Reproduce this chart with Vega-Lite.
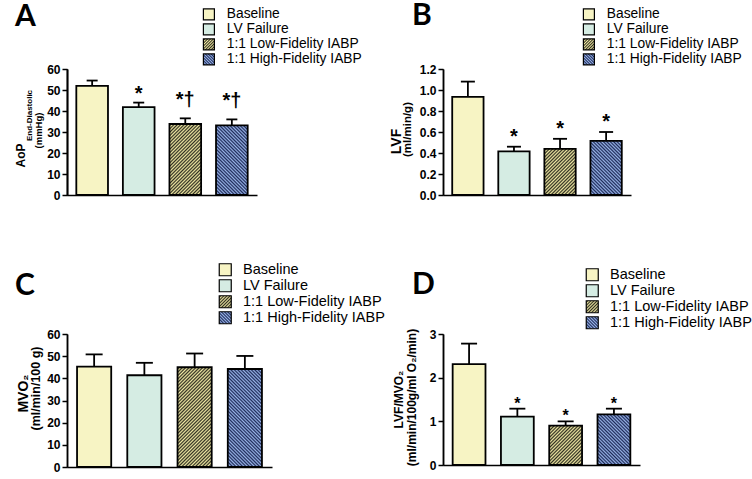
{
"$schema": "https://vega.github.io/schema/vega-lite/v6.json",
"autosize": {"type": "none"},
"padding": {"left": 67, "top": 69, "right": 685, "bottom": 410},
"params": [
{"name": "stY", "value": [{"offset":0,"color":"#f0e9a4"},{"offset":0.0125,"color":"#2f2e20"},{"offset":0.025,"color":"#f0e9a4"},{"offset":0.0375,"color":"#2f2e20"},{"offset":0.05,"color":"#f0e9a4"},{"offset":0.0625,"color":"#2f2e20"},{"offset":0.075,"color":"#f0e9a4"},{"offset":0.0875,"color":"#2f2e20"},{"offset":0.1,"color":"#f0e9a4"},{"offset":0.1125,"color":"#2f2e20"},{"offset":0.125,"color":"#f0e9a4"},{"offset":0.1375,"color":"#2f2e20"},{"offset":0.15,"color":"#f0e9a4"},{"offset":0.1625,"color":"#2f2e20"},{"offset":0.175,"color":"#f0e9a4"},{"offset":0.1875,"color":"#2f2e20"},{"offset":0.2,"color":"#f0e9a4"},{"offset":0.2125,"color":"#2f2e20"},{"offset":0.225,"color":"#f0e9a4"},{"offset":0.2375,"color":"#2f2e20"},{"offset":0.25,"color":"#f0e9a4"},{"offset":0.2625,"color":"#2f2e20"},{"offset":0.275,"color":"#f0e9a4"},{"offset":0.2875,"color":"#2f2e20"},{"offset":0.3,"color":"#f0e9a4"},{"offset":0.3125,"color":"#2f2e20"},{"offset":0.325,"color":"#f0e9a4"},{"offset":0.3375,"color":"#2f2e20"},{"offset":0.35,"color":"#f0e9a4"},{"offset":0.3625,"color":"#2f2e20"},{"offset":0.375,"color":"#f0e9a4"},{"offset":0.3875,"color":"#2f2e20"},{"offset":0.4,"color":"#f0e9a4"},{"offset":0.4125,"color":"#2f2e20"},{"offset":0.425,"color":"#f0e9a4"},{"offset":0.4375,"color":"#2f2e20"},{"offset":0.45,"color":"#f0e9a4"},{"offset":0.4625,"color":"#2f2e20"},{"offset":0.475,"color":"#f0e9a4"},{"offset":0.4875,"color":"#2f2e20"},{"offset":0.5,"color":"#f0e9a4"},{"offset":0.5125,"color":"#2f2e20"},{"offset":0.525,"color":"#f0e9a4"},{"offset":0.5375,"color":"#2f2e20"},{"offset":0.55,"color":"#f0e9a4"},{"offset":0.5625,"color":"#2f2e20"},{"offset":0.575,"color":"#f0e9a4"},{"offset":0.5875,"color":"#2f2e20"},{"offset":0.6,"color":"#f0e9a4"},{"offset":0.6125,"color":"#2f2e20"},{"offset":0.625,"color":"#f0e9a4"},{"offset":0.6375,"color":"#2f2e20"},{"offset":0.65,"color":"#f0e9a4"},{"offset":0.6625,"color":"#2f2e20"},{"offset":0.675,"color":"#f0e9a4"},{"offset":0.6875,"color":"#2f2e20"},{"offset":0.7,"color":"#f0e9a4"},{"offset":0.7125,"color":"#2f2e20"},{"offset":0.725,"color":"#f0e9a4"},{"offset":0.7375,"color":"#2f2e20"},{"offset":0.75,"color":"#f0e9a4"},{"offset":0.7625,"color":"#2f2e20"},{"offset":0.775,"color":"#f0e9a4"},{"offset":0.7875,"color":"#2f2e20"},{"offset":0.8,"color":"#f0e9a4"},{"offset":0.8125,"color":"#2f2e20"},{"offset":0.825,"color":"#f0e9a4"},{"offset":0.8375,"color":"#2f2e20"},{"offset":0.85,"color":"#f0e9a4"},{"offset":0.8625,"color":"#2f2e20"},{"offset":0.875,"color":"#f0e9a4"},{"offset":0.8875,"color":"#2f2e20"},{"offset":0.9,"color":"#f0e9a4"},{"offset":0.9125,"color":"#2f2e20"},{"offset":0.925,"color":"#f0e9a4"},{"offset":0.9375,"color":"#2f2e20"},{"offset":0.95,"color":"#f0e9a4"},{"offset":0.9625,"color":"#2f2e20"},{"offset":0.975,"color":"#f0e9a4"},{"offset":0.9875,"color":"#2f2e20"},{"offset":1,"color":"#f0e9a4"}]},
{"name": "stB", "value": [{"offset":0,"color":"#97b2e6"},{"offset":0.0125,"color":"#1d2a58"},{"offset":0.025,"color":"#97b2e6"},{"offset":0.0375,"color":"#1d2a58"},{"offset":0.05,"color":"#97b2e6"},{"offset":0.0625,"color":"#1d2a58"},{"offset":0.075,"color":"#97b2e6"},{"offset":0.0875,"color":"#1d2a58"},{"offset":0.1,"color":"#97b2e6"},{"offset":0.1125,"color":"#1d2a58"},{"offset":0.125,"color":"#97b2e6"},{"offset":0.1375,"color":"#1d2a58"},{"offset":0.15,"color":"#97b2e6"},{"offset":0.1625,"color":"#1d2a58"},{"offset":0.175,"color":"#97b2e6"},{"offset":0.1875,"color":"#1d2a58"},{"offset":0.2,"color":"#97b2e6"},{"offset":0.2125,"color":"#1d2a58"},{"offset":0.225,"color":"#97b2e6"},{"offset":0.2375,"color":"#1d2a58"},{"offset":0.25,"color":"#97b2e6"},{"offset":0.2625,"color":"#1d2a58"},{"offset":0.275,"color":"#97b2e6"},{"offset":0.2875,"color":"#1d2a58"},{"offset":0.3,"color":"#97b2e6"},{"offset":0.3125,"color":"#1d2a58"},{"offset":0.325,"color":"#97b2e6"},{"offset":0.3375,"color":"#1d2a58"},{"offset":0.35,"color":"#97b2e6"},{"offset":0.3625,"color":"#1d2a58"},{"offset":0.375,"color":"#97b2e6"},{"offset":0.3875,"color":"#1d2a58"},{"offset":0.4,"color":"#97b2e6"},{"offset":0.4125,"color":"#1d2a58"},{"offset":0.425,"color":"#97b2e6"},{"offset":0.4375,"color":"#1d2a58"},{"offset":0.45,"color":"#97b2e6"},{"offset":0.4625,"color":"#1d2a58"},{"offset":0.475,"color":"#97b2e6"},{"offset":0.4875,"color":"#1d2a58"},{"offset":0.5,"color":"#97b2e6"},{"offset":0.5125,"color":"#1d2a58"},{"offset":0.525,"color":"#97b2e6"},{"offset":0.5375,"color":"#1d2a58"},{"offset":0.55,"color":"#97b2e6"},{"offset":0.5625,"color":"#1d2a58"},{"offset":0.575,"color":"#97b2e6"},{"offset":0.5875,"color":"#1d2a58"},{"offset":0.6,"color":"#97b2e6"},{"offset":0.6125,"color":"#1d2a58"},{"offset":0.625,"color":"#97b2e6"},{"offset":0.6375,"color":"#1d2a58"},{"offset":0.65,"color":"#97b2e6"},{"offset":0.6625,"color":"#1d2a58"},{"offset":0.675,"color":"#97b2e6"},{"offset":0.6875,"color":"#1d2a58"},{"offset":0.7,"color":"#97b2e6"},{"offset":0.7125,"color":"#1d2a58"},{"offset":0.725,"color":"#97b2e6"},{"offset":0.7375,"color":"#1d2a58"},{"offset":0.75,"color":"#97b2e6"},{"offset":0.7625,"color":"#1d2a58"},{"offset":0.775,"color":"#97b2e6"},{"offset":0.7875,"color":"#1d2a58"},{"offset":0.8,"color":"#97b2e6"},{"offset":0.8125,"color":"#1d2a58"},{"offset":0.825,"color":"#97b2e6"},{"offset":0.8375,"color":"#1d2a58"},{"offset":0.85,"color":"#97b2e6"},{"offset":0.8625,"color":"#1d2a58"},{"offset":0.875,"color":"#97b2e6"},{"offset":0.8875,"color":"#1d2a58"},{"offset":0.9,"color":"#97b2e6"},{"offset":0.9125,"color":"#1d2a58"},{"offset":0.925,"color":"#97b2e6"},{"offset":0.9375,"color":"#1d2a58"},{"offset":0.95,"color":"#97b2e6"},{"offset":0.9625,"color":"#1d2a58"},{"offset":0.975,"color":"#97b2e6"},{"offset":0.9875,"color":"#1d2a58"},{"offset":1,"color":"#97b2e6"}]},
{"name": "gAL", "expr": "{gradient: 'linear', x1: 0, y1: 0, x2: 0.713, y2: 1.598, stops: stY}"},
{"name": "gAH", "expr": "{gradient: 'linear', x1: 0, y1: 1, x2: 0.735, y2: -0.617, stops: stB}"},
{"name": "gBL", "expr": "{gradient: 'linear', x1: 0, y1: 0, x2: 1.367, y2: 2.016, stops: stY}"},
{"name": "gBH", "expr": "{gradient: 'linear', x1: 0, y1: 1, x2: 1.090, y2: -0.883, stops: stB}"},
{"name": "gCL", "expr": "{gradient: 'linear', x1: 0, y1: 0, x2: 0.418, y2: 1.220, stops: stY}"},
{"name": "gCH", "expr": "{gradient: 'linear', x1: 0, y1: 1, x2: 0.432, y2: -0.238, stops: stB}"},
{"name": "gDL", "expr": "{gradient: 'linear', x1: 0, y1: 0, x2: 1.703, y2: 2.038, stops: stY}"},
{"name": "gDH", "expr": "{gradient: 'linear', x1: 0, y1: 1, x2: 1.226, y2: -0.891, stops: stB}"},
{"name": "legL", "expr": "{gradient: 'linear', x1: 0, y1: 0, x2: 5.2, y2: 5.2, stops: stY}"},
{"name": "legH", "expr": "{gradient: 'linear', x1: 0, y1: 1, x2: 5.2, y2: -4.2, stops: stB}"}
],
"data": {"values": [
{"panel":"A","group":"Baseline","value":52.0,"upper":54.5,"sig":""},
{"panel":"A","group":"LV Failure","value":41.8,"upper":44.0,"sig":"*"},
{"panel":"A","group":"1:1 Low-Fidelity IABP","value":33.8,"upper":36.5,"sig":"*†"},
{"panel":"A","group":"1:1 High-Fidelity IABP","value":33.2,"upper":36.0,"sig":"*†"},
{"panel":"B","group":"Baseline","value":0.935,"upper":1.08,"sig":""},
{"panel":"B","group":"LV Failure","value":0.415,"upper":0.46,"sig":"*"},
{"panel":"B","group":"1:1 Low-Fidelity IABP","value":0.44,"upper":0.535,"sig":"*"},
{"panel":"B","group":"1:1 High-Fidelity IABP","value":0.515,"upper":0.60,"sig":"*"},
{"panel":"C","group":"Baseline","value":45.3,"upper":50.8,"sig":""},
{"panel":"C","group":"LV Failure","value":41.4,"upper":47.0,"sig":""},
{"panel":"C","group":"1:1 Low-Fidelity IABP","value":45.0,"upper":51.2,"sig":""},
{"panel":"C","group":"1:1 High-Fidelity IABP","value":44.2,"upper":50.1,"sig":""},
{"panel":"D","group":"Baseline","value":2.31,"upper":2.78,"sig":""},
{"panel":"D","group":"LV Failure","value":1.11,"upper":1.29,"sig":"*"},
{"panel":"D","group":"1:1 Low-Fidelity IABP","value":0.90,"upper":1.00,"sig":"*"},
{"panel":"D","group":"1:1 High-Fidelity IABP","value":1.16,"upper":1.29,"sig":"*"}
]},
"columns": 2,
"align": "all",
"bounds": "flush",
"spacing": {"row": 132, "column": 171},
"resolve": {"scale": {"fill": "independent", "y": "independent", "x": "independent"}, "legend": {"fill": "independent"}, "axis": {"y": "independent", "x": "independent"}},
"concat": [
{
 "width": 190, "height": 126,
 "title": {"text": "A", "anchor": "start", "frame": "group", "font": "Lato", "fontSize": 30, "fontWeight": "bold", "color": "black", "baseline": "alphabetic", "offset": -48, "dx": -52},
 "transform": [{"filter": "datum.panel === 'A'"}],
 "encoding": {"x": {"field": "group", "type": "nominal", "sort": ["Baseline","LV Failure","1:1 Low-Fidelity IABP","1:1 High-Fidelity IABP"], "scale": {"paddingInner": 0.32, "paddingOuter": 0.2}, "axis": {"title": null, "labels": false, "ticks": false}}},
 "layer": [
  {"mark": {"type": "bar", "stroke": "black", "strokeWidth": 1.8},
   "encoding": {
    "y": {"field": "value", "type": "quantitative", "scale": {"domain": [0, 60]}, "axis": {"orient": "left", "values": [0,10,20,30,40,50,60], "title": "(mmHg)", "titleFontSize": 9.5, "titleX": -24, "titleY": 61}},
    "fill": {"field": "group", "type": "nominal",
     "condition": [{"test": "datum.group === '1:1 Low-Fidelity IABP'", "value": {"expr": "gAL"}}, {"test": "datum.group === '1:1 High-Fidelity IABP'", "value": {"expr": "gAH"}}],
     "scale": {"domain": ["Baseline","LV Failure","1:1 Low-Fidelity IABP","1:1 High-Fidelity IABP"], "range": ["#f7f4c4", "#d5ece3", {"expr": "legL"}, {"expr": "legH"}]},
     "legend": {"orient": "none", "legendX": 135, "legendY": -61.5, "title": null, "symbolType": "square", "symbolSize": 121, "symbolStrokeColor": "black", "symbolStrokeWidth": 1.2, "symbolOpacity": 1, "labelFont": "Liberation Sans", "labelFontSize": 13.8, "labelColor": "black", "labelOffset": 11, "labelLimit": 400, "rowPadding": -10, "padding": 0}}
   }},
  {"mark": {"type": "rule", "color": "black", "strokeWidth": 1.8},
   "encoding": {"y": {"field": "value", "type": "quantitative", "scale": {"domain": [0, 60]}, "axis": {"orient": "left", "title": "AoP", "labels": false, "ticks": false, "titleFontSize": 12, "titleX": -40, "titleY": 86}}, "y2": {"field": "upper"}}},
  {"mark": {"type": "tick", "color": "black", "thickness": 1.8, "size": 11, "opacity": 1},
   "encoding": {"y": {"field": "upper", "type": "quantitative", "scale": {"domain": [0, 60]}, "axis": {"orient": "left", "title": "End-Diastolic", "labels": false, "ticks": false, "titleFontSize": 8, "titleX": -34, "titleY": 46}}}},
  {"transform": [{"filter": "datum.sig === '*'"}],
   "mark": {"type": "text", "font": "Liberation Sans", "fontWeight": "bold", "fontSize": 20, "color": "black", "align": "center", "baseline": "alphabetic", "dy": -3},
   "encoding": {"y": {"field": "upper", "type": "quantitative", "scale": {"domain": [0, 60]}, "axis": null}, "text": {"field": "sig"}}},
  {"transform": [{"filter": "datum.sig === '*†'"}],
   "mark": {"type": "text", "font": "Liberation Sans", "fontWeight": "bold", "fontSize": 20, "color": "black", "align": "center", "baseline": "alphabetic", "dy": -12},
   "encoding": {"y": {"field": "upper", "type": "quantitative", "scale": {"domain": [0, 60]}, "axis": null}, "text": {"field": "sig"}}}
 ],
 "resolve": {"axis": {"y": "independent"}}
},
{
 "width": 188, "height": 126,
 "title": {"text": "B", "anchor": "start", "frame": "group", "font": "Lato", "fontSize": 30, "fontWeight": "bold", "color": "black", "baseline": "alphabetic", "offset": -47, "dx": -31},
 "transform": [{"filter": "datum.panel === 'B'"}],
 "encoding": {"x": {"field": "group", "type": "nominal", "sort": ["Baseline","LV Failure","1:1 Low-Fidelity IABP","1:1 High-Fidelity IABP"], "scale": {"paddingInner": 0.32, "paddingOuter": 0.2}, "axis": {"title": null, "labels": false, "ticks": false}}},
 "layer": [
  {"mark": {"type": "bar", "stroke": "black", "strokeWidth": 1.8},
   "encoding": {
    "y": {"field": "value", "type": "quantitative", "scale": {"domain": [0, 1.2]}, "axis": {"orient": "left", "values": [0,0.2,0.4,0.6,0.8,1.0,1.2], "format": ".1f", "title": "(ml/min/g)", "titleFontSize": 11.5, "titleX": -31, "titleY": 60}},
    "fill": {"field": "group", "type": "nominal",
     "condition": [{"test": "datum.group === '1:1 Low-Fidelity IABP'", "value": {"expr": "gBL"}}, {"test": "datum.group === '1:1 High-Fidelity IABP'", "value": {"expr": "gBH"}}],
     "scale": {"domain": ["Baseline","LV Failure","1:1 Low-Fidelity IABP","1:1 High-Fidelity IABP"], "range": ["#f7f4c4", "#d5ece3", {"expr": "legL"}, {"expr": "legH"}]},
     "legend": {"orient": "none", "legendX": 139, "legendY": -61.5, "title": null, "symbolType": "square", "symbolSize": 121, "symbolStrokeColor": "black", "symbolStrokeWidth": 1.2, "symbolOpacity": 1, "labelFont": "Liberation Sans", "labelFontSize": 13.8, "labelColor": "black", "labelOffset": 11, "labelLimit": 400, "rowPadding": -10, "padding": 0}}
   }},
  {"mark": {"type": "rule", "color": "black", "strokeWidth": 1.8},
   "encoding": {"y": {"field": "value", "type": "quantitative", "scale": {"domain": [0, 1.2]}, "axis": {"orient": "left", "title": "LVF", "labels": false, "ticks": false, "titleFontSize": 14, "titleX": -40, "titleY": 72}}, "y2": {"field": "upper"}}},
  {"mark": {"type": "tick", "color": "black", "thickness": 1.8, "size": 14, "opacity": 1},
   "encoding": {"y": {"field": "upper", "type": "quantitative", "scale": {"domain": [0, 1.2]}, "axis": null}}},
  {"transform": [{"filter": "datum.sig === '*'"}],
   "mark": {"type": "text", "font": "Liberation Sans", "fontWeight": "bold", "fontSize": 20, "color": "black", "align": "center", "baseline": "alphabetic", "dy": -4},
   "encoding": {"y": {"field": "upper", "type": "quantitative", "scale": {"domain": [0, 1.2]}, "axis": null}, "text": {"field": "sig"}}}
 ],
 "resolve": {"axis": {"y": "independent"}}
},
{
 "width": 205, "height": 133,
 "title": {"text": "C", "anchor": "start", "frame": "group", "font": "Lato", "fontSize": 30, "fontWeight": "bold", "color": "black", "baseline": "alphabetic", "offset": -62, "dx": -52},
 "transform": [{"filter": "datum.panel === 'C'"}],
 "encoding": {"x": {"field": "group", "type": "nominal", "sort": ["Baseline","LV Failure","1:1 Low-Fidelity IABP","1:1 High-Fidelity IABP"], "scale": {"paddingInner": 0.32, "paddingOuter": 0.2}, "axis": {"title": null, "labels": false, "ticks": false}}},
 "layer": [
  {"mark": {"type": "bar", "stroke": "black", "strokeWidth": 1.8},
   "encoding": {
    "y": {"field": "value", "type": "quantitative", "scale": {"domain": [0, 60]}, "axis": {"orient": "left", "values": [0,10,20,30,40,50,60], "title": "(ml/min/100 g)", "titleFontSize": 12.5, "titleX": -25, "titleY": 54}},
    "fill": {"field": "group", "type": "nominal",
     "condition": [{"test": "datum.group === '1:1 Low-Fidelity IABP'", "value": {"expr": "gCL"}}, {"test": "datum.group === '1:1 High-Fidelity IABP'", "value": {"expr": "gCH"}}],
     "scale": {"domain": ["Baseline","LV Failure","1:1 Low-Fidelity IABP","1:1 High-Fidelity IABP"], "range": ["#f7f4c4", "#d5ece3", {"expr": "legL"}, {"expr": "legH"}]},
     "legend": {"orient": "none", "legendX": 151, "legendY": -71.5, "title": null, "symbolType": "square", "symbolSize": 144, "symbolStrokeColor": "black", "symbolStrokeWidth": 1.2, "symbolOpacity": 1, "labelFont": "Liberation Sans", "labelFontSize": 14.5, "labelColor": "black", "labelOffset": 10.5, "labelLimit": 400, "rowPadding": -10, "padding": 0}}
   }},
  {"mark": {"type": "rule", "color": "black", "strokeWidth": 1.8},
   "encoding": {"y": {"field": "value", "type": "quantitative", "scale": {"domain": [0, 60]}, "axis": {"orient": "left", "title": "MVO₂", "labels": false, "ticks": false, "titleFontSize": 14, "titleX": -37, "titleY": 59}}, "y2": {"field": "upper"}}},
  {"mark": {"type": "tick", "color": "black", "thickness": 1.8, "size": 17, "opacity": 1},
   "encoding": {"y": {"field": "upper", "type": "quantitative", "scale": {"domain": [0, 60]}, "axis": null}}}
 ],
 "resolve": {"axis": {"y": "independent"}}
},
{
 "width": 197, "height": 131,
 "title": {"text": "D", "anchor": "start", "frame": "group", "font": "Lato", "fontSize": 30, "fontWeight": "bold", "color": "black", "baseline": "alphabetic", "offset": -56, "dx": -31},
 "transform": [{"filter": "datum.panel === 'D'"}],
 "encoding": {"x": {"field": "group", "type": "nominal", "sort": ["Baseline","LV Failure","1:1 Low-Fidelity IABP","1:1 High-Fidelity IABP"], "scale": {"paddingInner": 0.32, "paddingOuter": 0.2}, "axis": {"title": null, "labels": false, "ticks": false}}},
 "layer": [
  {"mark": {"type": "bar", "stroke": "black", "strokeWidth": 1.8},
   "encoding": {
    "y": {"field": "value", "type": "quantitative", "scale": {"domain": [0, 3]}, "axis": {"orient": "left", "values": [0,1,2,3], "title": "(ml/min/100g/ml O₂/min)", "titleFontSize": 12, "titleX": -25, "titleY": 63}},
    "fill": {"field": "group", "type": "nominal",
     "condition": [{"test": "datum.group === '1:1 Low-Fidelity IABP'", "value": {"expr": "gDL"}}, {"test": "datum.group === '1:1 High-Fidelity IABP'", "value": {"expr": "gDH"}}],
     "scale": {"domain": ["Baseline","LV Failure","1:1 Low-Fidelity IABP","1:1 High-Fidelity IABP"], "range": ["#f7f4c4", "#d5ece3", {"expr": "legL"}, {"expr": "legH"}]},
     "legend": {"orient": "none", "legendX": 142, "legendY": -66.5, "title": null, "symbolType": "square", "symbolSize": 144, "symbolStrokeColor": "black", "symbolStrokeWidth": 1.2, "symbolOpacity": 1, "labelFont": "Liberation Sans", "labelFontSize": 14.5, "labelColor": "black", "labelOffset": 10.5, "labelLimit": 400, "rowPadding": -10, "padding": 0}}
   }},
  {"mark": {"type": "rule", "color": "black", "strokeWidth": 1.8},
   "encoding": {"y": {"field": "value", "type": "quantitative", "scale": {"domain": [0, 3]}, "axis": {"orient": "left", "title": "LVF/MVO₂", "labels": false, "ticks": false, "titleFontSize": 12, "titleX": -38, "titleY": 65}}, "y2": {"field": "upper"}}},
  {"mark": {"type": "tick", "color": "black", "thickness": 1.8, "size": 16, "opacity": 1},
   "encoding": {"y": {"field": "upper", "type": "quantitative", "scale": {"domain": [0, 3]}, "axis": null}}},
  {"transform": [{"filter": "datum.sig === '*'"}],
   "mark": {"type": "text", "font": "Liberation Sans", "fontWeight": "bold", "fontSize": 16, "color": "black", "align": "center", "baseline": "alphabetic", "dy": 0},
   "encoding": {"y": {"field": "upper", "type": "quantitative", "scale": {"domain": [0, 3]}, "axis": null}, "text": {"field": "sig"}}}
 ],
 "resolve": {"axis": {"y": "independent"}}
}
],
"config": {
 "view": {"stroke": null},
 "font": "Liberation Sans",
 "axis": {"grid": false, "domainColor": "black", "domainWidth": 1.5, "tickColor": "black", "tickWidth": 1.5, "tickSize": 5, "labelFont": "Liberation Sans", "labelFontWeight": "bold", "labelFontSize": 12, "labelColor": "black", "labelPadding": 2, "titleFont": "Liberation Sans", "titleFontWeight": "bold", "titleColor": "black"}
}
}
